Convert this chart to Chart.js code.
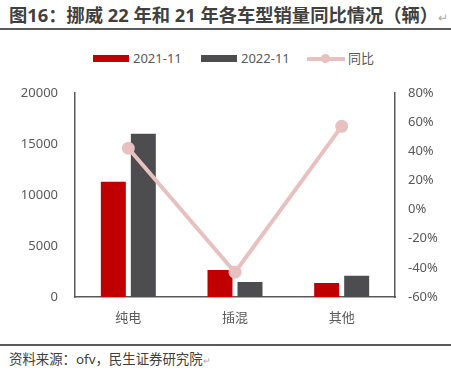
<!DOCTYPE html>
<html>
<head>
<meta charset="utf-8">
<script src="https://cdn.jsdelivr.net/npm/chart.js@4"></script>
<style>
  body { margin: 0; background: #fff; width: 451px; height: 377px; position: relative; overflow: hidden;
         font-family: "Noto Sans", "Noto Sans CJK SC", sans-serif; }
  #title { position: absolute; left: 9px; top: 1px; font-size: 18.3px; font-weight: bold; color: #404040; white-space: nowrap; }
  #title span { font-weight: normal; color: #aaa; font-size: 12px; }
  #topline { position: absolute; left: 0; top: 28px; width: 451px; height: 2px; background: #595959; }
  #botline { position: absolute; left: 0; top: 344px; width: 451px; height: 2px; background: #595959; }
  #source { position: absolute; left: 9px; top: 348px; font-size: 13.4px; color: #404040; white-space: nowrap; }
  #source span { color: #aaa; font-size: 9px; }
  #legend { position: absolute; top: 48px; left: 0; width: 451px; font-size: 13px; color: #595959; }
  .item { position: absolute; top: 0; line-height: 20px; white-space: nowrap; }
  .box { position: absolute; top: 7px; width: 36px; height: 7px; }
  .ln { position: absolute; top: 9px; width: 38px; height: 4px; background: #E8C0BF; }
  .dot { position: absolute; top: 6px; left: 14px; width: 9px; height: 9px; border-radius: 50%; background: #E8C0BF; }
  #wrap { position: absolute; left: 0; top: 68px; width: 451px; height: 262px; }
  canvas { display: block; }
</style>
</head>
<body>
<div id="title">图16：挪威 22 年和 21 年各车型销量同比情况（辆）<span>↵</span></div>
<div id="topline"></div>
<div id="wrap"><canvas id="chart" width="451" height="262"></canvas></div>
<div id="legend">
  <div class="item" style="left:93px"><div class="box" style="background:#C00000"></div><span style="margin-left:40px">2021-11</span></div>
  <div class="item" style="left:201px"><div class="box" style="background:#4D4D4F"></div><span style="margin-left:40px">2022-11</span></div>
  <div class="item" style="left:307px"><div class="ln"></div><div class="dot"></div><span style="margin-left:41px">同比</span></div>
</div>
<div id="botline"></div>
<div id="source">资料来源：ofv，民生证券研究院<span>↵</span></div>
<script>
const categories = ['纯电', '插混', '其他'];
const sales2021 = [11300, 2650, 1370];
const sales2022 = [16000, 1470, 2090];
const yoyPercent = [42, -43, 57];

const axisColor = '#595959';
const tickFont = { family: '"Noto Sans", "Noto Sans CJK SC", sans-serif', size: 13 };

const ctx = document.getElementById('chart').getContext('2d');
const chart = new Chart(ctx, {
    data: {
        labels: categories,
        datasets: [
            {
                type: 'line',
                label: '同比',
                data: yoyPercent,
                yAxisID: 'y1',
                borderColor: '#E8C0BF',
                backgroundColor: '#E8C0BF',
                borderWidth: 4,
                pointRadius: 4.5,
                pointHoverRadius: 4.5,
                tension: 0,
                order: 0
            },
            {
                type: 'bar',
                label: '2021-11',
                data: sales2021,
                yAxisID: 'y',
                backgroundColor: '#C00000',
                categoryPercentage: 0.5625,
                barPercentage: 0.833,
                order: 1
            },
            {
                type: 'bar',
                label: '2022-11',
                data: sales2022,
                yAxisID: 'y',
                backgroundColor: '#4D4D4F',
                categoryPercentage: 0.5625,
                barPercentage: 0.833,
                order: 1
            }
        ]
    },
    options: {
        responsive: false,
        animation: false,
        layout: { padding: { top: 3, left: 0, right: 0, bottom: 0 } },
        plugins: {
            legend: { display: false },
            tooltip: { enabled: false }
        },
        scales: {
            x: {
                grid: { display: false, drawTicks: false },
                border: { color: axisColor, width: 1.5 },
                ticks: { color: axisColor, font: tickFont, padding: 13 },
                afterFit: function(scale) { scale.height = 33; }
            },
            y: {
                position: 'left',
                min: 0,
                max: 20000,
                grid: { display: false, drawTicks: false },
                border: { color: axisColor, width: 1.5 },
                ticks: {
                    stepSize: 5000,
                    color: axisColor,
                    font: tickFont,
                    padding: 17,
                    callback: function(v) { return String(v); }
                },
                afterFit: function(scale) { scale.width = 75; }
            },
            y1: {
                position: 'right',
                min: -60,
                max: 80,
                grid: { display: false, drawTicks: false },
                border: { color: axisColor, width: 1.5 },
                ticks: {
                    stepSize: 20,
                    color: axisColor,
                    font: tickFont,
                    padding: 13,
                    callback: function(v) { return v + '%'; }
                },
                afterFit: function(scale) { scale.width = 56; }
            }
        }
    }
});
</script>
</body>
</html>
